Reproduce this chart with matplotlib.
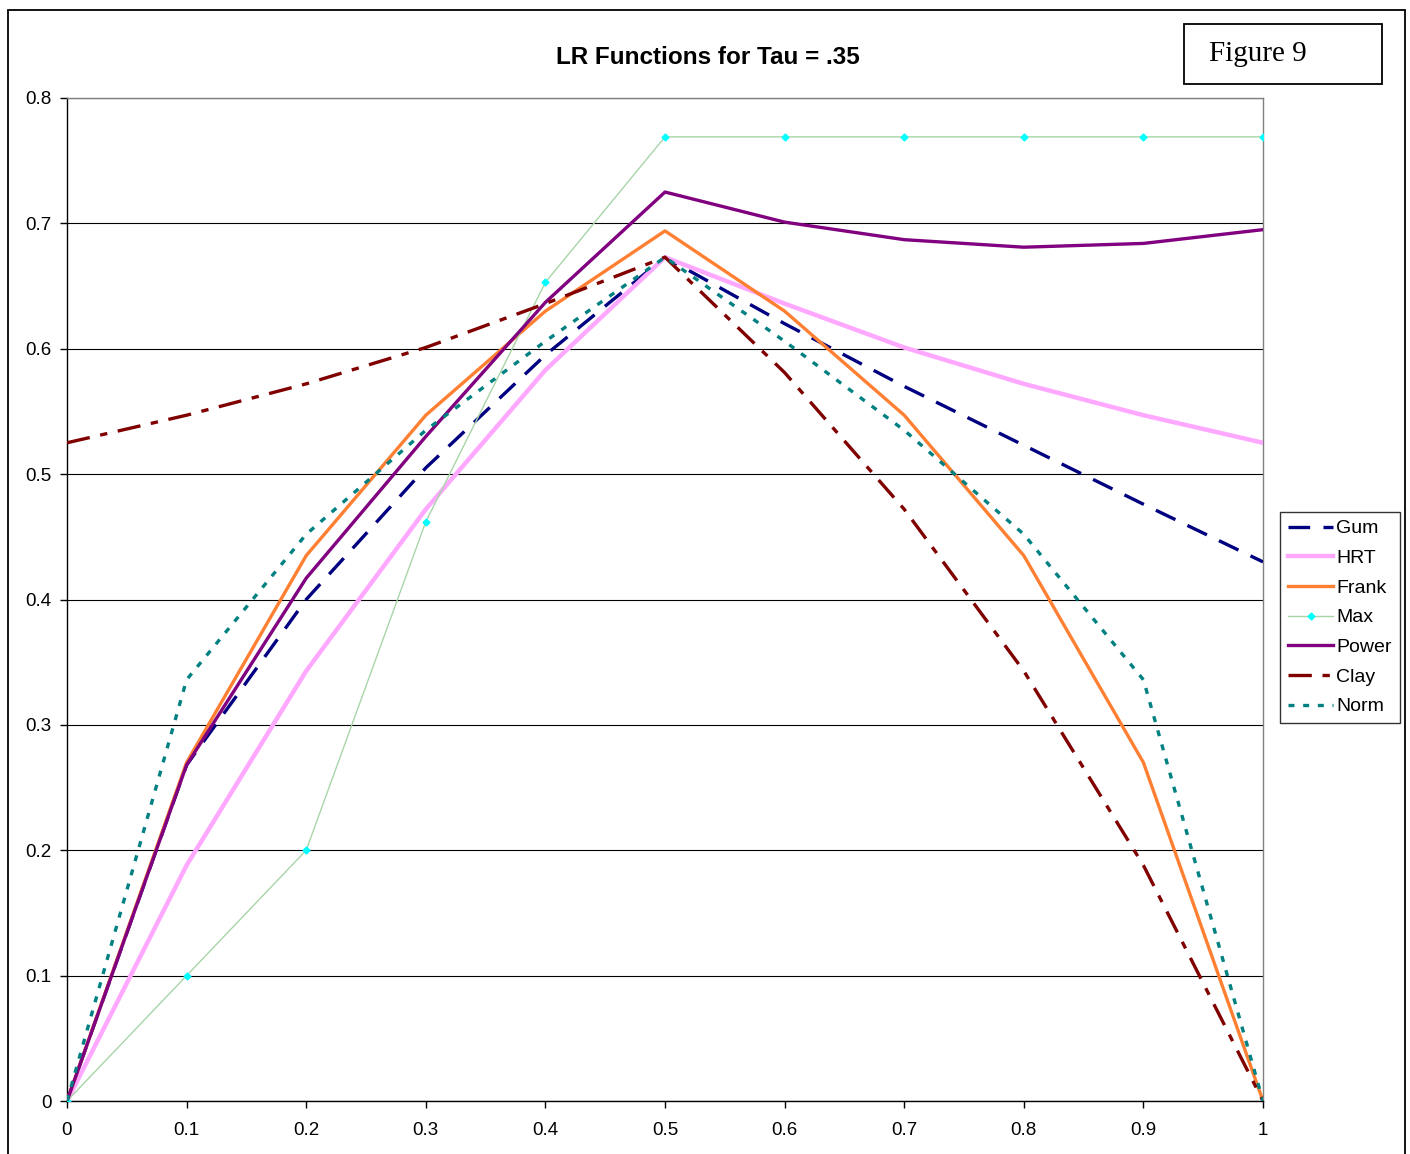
import matplotlib
matplotlib.use("Agg")
import matplotlib.pyplot as plt
from matplotlib.patches import Rectangle

plt.rcParams['font.family'] = ['Liberation Sans', 'DejaVu Sans']

x = [0.0, 0.1, 0.2, 0.3, 0.4, 0.5, 0.6, 0.7, 0.8, 0.9, 1.0]
gum = [0.0, 0.268, 0.400, 0.505, 0.595, 0.673, 0.620, 0.570, 0.523, 0.476, 0.430]
hrt = [0.0, 0.188, 0.343, 0.472, 0.583, 0.673, 0.636, 0.601, 0.572, 0.547, 0.525]
frank = [0.0, 0.270, 0.435, 0.547, 0.630, 0.694, 0.630, 0.547, 0.435, 0.270, 0.0]
mx = [0.0, 0.100, 0.200, 0.462, 0.653, 0.769, 0.769, 0.769, 0.769, 0.769, 0.769]
power = [0.0, 0.268, 0.417, 0.530, 0.637, 0.725, 0.701, 0.687, 0.681, 0.684, 0.695]
clay = [0.525, 0.547, 0.572, 0.601, 0.636, 0.673, 0.581, 0.472, 0.343, 0.188, 0.0]
norm = [0.0, 0.336, 0.452, 0.535, 0.606, 0.673, 0.606, 0.535, 0.452, 0.336, 0.0]

xticks = [0, 0.1, 0.2, 0.3, 0.4, 0.5, 0.6, 0.7, 0.8, 0.9, 1]
xticklabels = ["0", "0.1", "0.2", "0.3", "0.4", "0.5", "0.6", "0.7", "0.8", "0.9", "1"]
yticks = [0, 0.1, 0.2, 0.3, 0.4, 0.5, 0.6, 0.7, 0.8]
yticklabels = ["0", "0.1", "0.2", "0.3", "0.4", "0.5", "0.6", "0.7", "0.8"]

fig = plt.figure(figsize=(14.10, 11.54), dpi=100)
ax = fig.add_axes([67/1410, 53/1154, (1263-67)/1410, (1101-98)/1154])

ax.plot(x, gum, color='#000080', lw=2.4, dashes=(6.5, 4), label='Gum', zorder=3)
ax.plot(x, hrt, color='#FFA8FF', lw=3.2, label='HRT', zorder=3)
ax.plot(x, frank, color='#FF8033', lw=2.4, label='Frank', zorder=3)
ax.plot(x, mx, color='#A8D5A8', lw=1.0, marker='D', markersize=3.5,
        markerfacecolor='#00FFFF', markeredgecolor='#00FFFF', label='Max', zorder=3)
ax.plot(x, power, color='#800080', lw=2.4, label='Power', zorder=3)
ax.plot(x, clay, color='#800000', lw=2.4, dashes=(7, 3.2, 2.2, 3.2), label='Clay', zorder=3)
ax.plot(x, norm, color='#008080', lw=2.4, dashes=(1.8, 2.6), label='Norm', zorder=3)

ax.set_xlim(0, 1)
ax.set_ylim(0, 0.8)
ax.set_xticks(xticks)
ax.set_xticklabels(xticklabels)
ax.set_yticks(yticks)
ax.set_yticklabels(yticklabels)
ax.tick_params(axis='both', direction='out', length=5, width=1, labelsize=13.5, colors='black')
ax.tick_params(axis='x', pad=10)
ax.tick_params(axis='y', pad=6)
ax.yaxis.grid(True, color='black', lw=0.8)
ax.set_axisbelow(True)
for s in ['left', 'bottom']:
    ax.spines[s].set_color('black')
    ax.spines[s].set_linewidth(1.0)
for s in ['top', 'right']:
    ax.spines[s].set_color('#808080')
    ax.spines[s].set_linewidth(1.0)

leg = fig.legend(loc='upper left', bbox_to_anchor=(1280/1410, 1 - 512/1154),
                 fontsize=14, frameon=True, fancybox=False, edgecolor='black',
                 handlelength=2.35, handletextpad=0.15, borderpad=0.4,
                 labelspacing=0.62, borderaxespad=0)
leg.get_frame().set_linewidth(1.0)

fig.text(708/1410, 1 - 57/1154, "LR Functions for Tau = .35", ha='center', va='center',
         fontsize=17.5, fontweight='bold')

fig.patches.append(Rectangle((1184/1410, 1 - 84/1154), (1382-1184)/1410, 60/1154,
                             transform=fig.transFigure, fill=False, edgecolor='black', lw=1.3))
fig.text(1258/1410, 1 - 54/1154, "Figure 9", ha='center', va='center',
         fontsize=21, family=['Liberation Serif', 'DejaVu Serif'])

fig.patches.append(Rectangle((8/1410, -0.02), (1405-8)/1410, 1.02 - 10/1154,
                             transform=fig.transFigure, fill=False, edgecolor='black', lw=1.3))

fig.savefig('out.png', dpi=100)
